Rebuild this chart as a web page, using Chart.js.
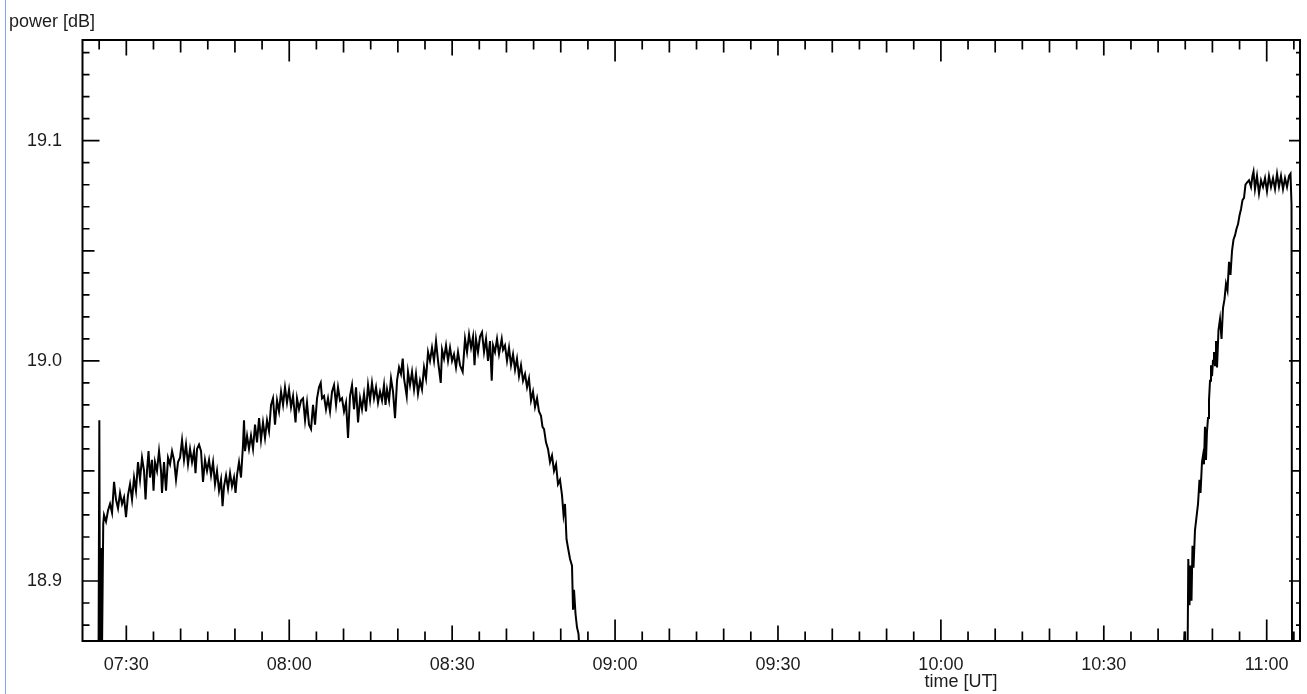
<!DOCTYPE html>
<html>
<head>
<meta charset="utf-8">
<title>power [dB]</title>
<script src="https://cdn.jsdelivr.net/npm/chart.js@4/dist/chart.umd.min.js"></script>
<style>
  html, body { margin: 0; padding: 0; background: #fff; }
  #wrap { position: relative; width: 1307px; height: 694px; overflow: hidden; }
  #edge { position: absolute; left: 5px; top: 0; width: 1.4px; height: 694px; background: #7fa6e6; }
  canvas { position: absolute; left: 0; top: 0; }
</style>
</head>
<body>
<div id="wrap">
  <canvas id="chart" width="1307" height="694"></canvas>
  <div id="edge"></div>
</div>
<script>
// Sample times in minutes after 00:00 UT
const sampleTimes = [
  444.88, 445.03, 445.16, 445.34, 445.49, 445.75, 445.89, 446.26, 446.63, 447.00,
  447.37, 447.74, 448.10, 448.47, 448.84, 449.21, 449.58, 449.94, 450.31, 450.68,
  451.05, 451.42, 451.78, 452.15, 452.52, 452.89, 453.26, 453.54, 453.81, 454.09,
  454.36, 454.73, 455.01, 455.28, 455.65, 456.02, 456.39, 456.57, 456.94, 457.31,
  457.68, 458.05, 458.42, 458.78, 459.15, 459.52, 459.89, 460.26, 460.62, 460.99,
  461.36, 461.73, 462.10, 462.47, 462.74, 463.02, 463.39, 463.76, 464.12, 464.49,
  464.86, 465.23, 465.60, 465.97, 466.33, 466.70, 467.07, 467.44, 467.72, 467.99,
  468.36, 468.73, 469.10, 469.46, 469.83, 470.11, 470.38, 470.75, 471.12, 471.49,
  471.67, 471.86, 472.23, 472.59, 472.96, 473.33, 473.70, 474.07, 474.44, 474.80,
  475.17, 475.54, 475.91, 476.28, 476.65, 477.01, 477.38, 477.75, 478.12, 478.49,
  478.86, 479.22, 479.59, 479.96, 480.33, 480.70, 481.16, 481.43, 481.80, 482.17,
  482.54, 482.91, 483.27, 483.64, 484.01, 484.38, 484.75, 485.12, 485.48, 485.80,
  486.04, 486.41, 486.77, 487.14, 487.51, 487.88, 488.25, 488.62, 488.98, 489.35,
  489.72, 490.09, 490.46, 490.83, 491.19, 491.56, 491.93, 492.30, 492.67, 493.04,
  493.40, 493.77, 494.14, 494.51, 494.88, 495.24, 495.61, 495.98, 496.35, 496.72,
  497.09, 497.45, 497.73, 498.01, 498.38, 498.74, 499.11, 499.48, 499.85, 500.22,
  500.58, 500.90, 501.14, 501.63, 501.87, 502.24, 502.61, 502.98, 503.34, 503.71,
  504.08, 504.45, 504.82, 505.19, 505.56, 505.92, 506.29, 506.66, 507.03, 507.40,
  507.90, 508.14, 508.50, 508.87, 509.24, 509.61, 509.98, 510.34, 510.71, 511.08,
  511.45, 511.94, 512.37, 512.74, 513.11, 513.48, 513.85, 514.12, 514.39, 514.76,
  515.13, 515.50, 515.87, 516.24, 516.60, 516.97, 517.29, 517.53, 517.89, 518.26,
  518.63, 519.13, 519.37, 519.73, 520.10, 520.47, 520.84, 521.21, 521.58, 521.94,
  522.31, 522.68, 523.05, 523.42, 523.79, 524.15, 524.52, 524.89, 525.26, 525.63,
  525.99, 526.36, 526.64, 526.92, 527.28, 527.65, 528.02, 528.39, 528.76, 529.13,
  529.49, 529.86, 530.23, 530.51, 530.78, 531.06, 531.34, 531.71, 532.07, 532.26,
  532.44, 532.72, 532.99, 533.27, 533.64,
  644.59, 644.86, 645.05, 645.41, 645.56, 645.78, 645.96, 646.15, 646.33, 646.52,
  646.79, 647.07, 647.35, 647.62, 647.81, 648.08, 648.27, 648.45, 648.63, 648.82,
  649.00, 649.19, 649.37, 649.56, 649.74, 649.93, 650.11, 650.29, 650.48, 650.66,
  650.85, 651.12, 651.40, 651.68, 651.95, 652.23, 652.50, 652.78, 653.06, 653.33,
  653.61, 653.88, 654.16, 654.44, 654.71, 654.99, 655.27, 655.54, 655.82, 656.09,
  656.37, 656.74, 657.11, 657.38, 657.57, 657.84, 658.21, 658.58, 658.95, 659.32,
  659.69, 660.05, 660.42, 660.79, 661.16, 661.53, 661.90, 662.26, 662.63, 663.00,
  663.37, 663.74, 664.11, 664.38, 664.57, 664.66
];

// Received power in dB (18.860 marks readings below the plotted range)
const powerDb = [
  18.860, 18.973, 18.860, 18.915, 18.860, 18.926, 18.930, 18.927, 18.932, 18.935,
  18.931, 18.945, 18.937, 18.933, 18.940, 18.935, 18.938, 18.929, 18.939, 18.944,
  18.937, 18.947, 18.941, 18.954, 18.946, 18.956, 18.950, 18.937, 18.950, 18.959,
  18.947, 18.955, 18.941, 18.954, 18.950, 18.959, 18.950, 18.940, 18.954, 18.941,
  18.956, 18.953, 18.959, 18.955, 18.946, 18.954, 18.956, 18.964, 18.955, 18.962,
  18.953, 18.960, 18.954, 18.959, 18.949, 18.960, 18.962, 18.959, 18.945, 18.955,
  18.950, 18.955, 18.948, 18.954, 18.944, 18.950, 18.941, 18.946, 18.934, 18.943,
  18.948, 18.942, 18.949, 18.943, 18.947, 18.940, 18.948, 18.954, 18.947, 18.962,
  18.973, 18.959, 18.966, 18.960, 18.966, 18.960, 18.971, 18.963, 18.974, 18.964,
  18.972, 18.965, 18.973, 18.968, 18.980, 18.983, 18.971, 18.982, 18.977, 18.986,
  18.980, 18.988, 18.981, 18.987, 18.979, 18.984, 18.972, 18.983, 18.978, 18.982,
  18.983, 18.973, 18.981, 18.971, 18.969, 18.980, 18.971, 18.983, 18.988, 18.990,
  18.983, 18.984, 18.978, 18.983, 18.977, 18.986, 18.989, 18.980, 18.988, 18.982,
  18.983, 18.977, 18.981, 18.965, 18.984, 18.989, 18.978, 18.988, 18.972, 18.983,
  18.978, 18.985, 18.977, 18.989, 18.982, 18.990, 18.983, 18.988, 18.981, 18.986,
  18.982, 18.989, 18.980, 18.987, 18.982, 18.992, 18.986, 18.974, 18.991, 18.997,
  18.994, 19.001, 18.992, 18.984, 18.995, 18.989, 18.995, 18.987, 18.994, 18.985,
  18.991, 18.987, 18.997, 18.992, 19.004, 19.000, 19.006, 19.000, 19.009, 19.000,
  18.990, 19.005, 19.001, 19.007, 19.000, 19.006, 19.000, 19.003, 18.997, 19.004,
  18.998, 18.995, 19.010, 19.004, 19.012, 19.006, 19.011, 18.998, 19.010, 19.004,
  19.011, 19.013, 19.004, 19.010, 19.000, 19.009, 18.991, 19.007, 19.004, 19.010,
  19.003, 19.010, 19.005, 19.007, 19.000, 19.006, 18.998, 19.003, 18.996, 19.001,
  18.993, 18.998, 18.991, 18.994, 18.988, 18.992, 18.982, 18.986, 18.979, 18.983,
  18.977, 18.975, 18.970, 18.969, 18.963, 18.960, 18.954, 18.957, 18.950, 18.953,
  18.944, 18.946, 18.939, 18.930, 18.935, 18.919, 18.915, 18.910, 18.907, 18.887,
  18.896, 18.885, 18.879, 18.876, 18.860,
  18.860, 18.877, 18.860, 18.860, 18.910, 18.889, 18.907, 18.891, 18.916, 18.906,
  18.923, 18.929, 18.935, 18.946, 18.940, 18.954, 18.957, 18.953, 18.970, 18.955,
  18.968, 18.974, 18.982, 18.991, 18.998, 18.993, 19.000, 19.004, 18.998, 19.009,
  18.997, 19.014, 19.019, 19.010, 19.024, 19.028, 19.035, 19.032, 19.045, 19.039,
  19.050, 19.055, 19.057, 19.060, 19.062, 19.066, 19.069, 19.073, 19.074, 19.080,
  19.081, 19.082, 19.079, 19.084, 19.086, 19.078, 19.084, 19.076, 19.082, 19.079,
  19.083, 19.077, 19.084, 19.079, 19.083, 19.078, 19.085, 19.079, 19.084, 19.078,
  19.083, 19.079, 19.084, 19.085, 19.071, 18.860
];

// Labelled axis ticks
const timeTickLabels = ['07:30', '08:00', '08:30', '09:00', '09:30', '10:00', '10:30', '11:00'];
const powerTickLabels = ['18.9', '19.0', '19.1'];

// Axis extents
const timeRange = [441.93, 666.13];
const powerRange = [18.87275, 19.14574];

const toMinutes = s => { const [h, m] = s.split(':').map(Number); return h * 60 + m; };
const toClock = v => {
  const h = Math.floor(v / 60), m = Math.round(v - h * 60);
  return String(h).padStart(2, '0') + ':' + String(m).padStart(2, '0');
};

const FONT = { family: "'Liberation Sans', Arial, sans-serif", size: 18 };
const TEXT = '#1c1c1c';

// Frame, inward tick marks on all four sides, and axis titles
const frameAndTicks = {
  id: 'frameAndTicks',
  afterDatasetsDraw(chart) {
    const { ctx, chartArea: a, scales: { x, y } } = chart;
    ctx.save();
    ctx.strokeStyle = '#000';
    ctx.lineWidth = 1.7;
    ctx.beginPath();
    for (let m = Math.ceil(x.min / 5) * 5; m <= x.max; m += 5) {
      const px = x.getPixelForValue(m);
      const len = m % 60 === 0 ? 21.5 : m % 30 === 0 ? 15.5 : m % 10 === 0 ? 12.5 : 9.5;
      ctx.moveTo(px, a.bottom); ctx.lineTo(px, a.bottom - len);
      ctx.moveTo(px, a.top); ctx.lineTo(px, a.top + len);
    }
    for (let k = Math.ceil(y.min * 100); k <= Math.floor(y.max * 100); k++) {
      const py = y.getPixelForValue(k / 100);
      const big = k % 10 === 0, mid = k % 5 === 0;
      const lenL = big ? 17 : mid ? 12 : 7;
      const lenR = big ? 11 : mid ? 8 : 4;
      ctx.moveTo(a.left, py); ctx.lineTo(a.left + lenL, py);
      ctx.moveTo(a.right, py); ctx.lineTo(a.right - lenR, py);
    }
    ctx.stroke();
    ctx.lineWidth = 2;
    ctx.strokeRect(a.left, a.top, a.right - a.left, a.bottom - a.top);

    ctx.fillStyle = TEXT;
    ctx.font = `${FONT.size}px ${FONT.family}`;
    ctx.textAlign = 'left';
    ctx.textBaseline = 'alphabetic';
    ctx.fillText('power [dB]', 9, 26.5);
    ctx.fillText('time [UT]', 924.5, 686.5);
    ctx.restore();
  }
};

new Chart(document.getElementById('chart'), {
  type: 'line',
  data: {
    datasets: [{
      data: sampleTimes.map((t, i) => ({ x: t, y: powerDb[i] })),
      borderColor: '#000',
      borderWidth: 2,
      pointRadius: 0,
      tension: 0,
      fill: false
    }]
  },
  options: {
    responsive: false,
    animation: false,
    devicePixelRatio: 1,
    layout: { padding: { top: 40, right: 7, bottom: 0, left: 0 } },
    plugins: { legend: { display: false }, tooltip: { enabled: false } },
    scales: {
      x: {
        type: 'linear',
        position: 'bottom',
        min: timeRange[0],
        max: timeRange[1],
        grid: { display: false, drawTicks: false },
        border: { display: false },
        ticks: { font: FONT, color: TEXT, padding: 13.7, maxRotation: 0, autoSkip: false,
                  callback: v => toClock(v) },
        afterBuildTicks: s => { s.ticks = timeTickLabels.map(l => ({ value: toMinutes(l) })); },
        afterFit: s => { s.height = 53; }
      },
      y: {
        type: 'linear',
        position: 'left',
        min: powerRange[0],
        max: powerRange[1],
        grid: { display: false, drawTicks: false },
        border: { display: false },
        ticks: { font: FONT, color: TEXT, padding: 20.5, callback: v => v.toFixed(1) },
        afterBuildTicks: s => { s.ticks = powerTickLabels.map(l => ({ value: Number(l) })); },
        afterFit: s => { s.width = 82.5; }
      }
    }
  },
  plugins: [frameAndTicks]
});
</script>
</body>
</html>
